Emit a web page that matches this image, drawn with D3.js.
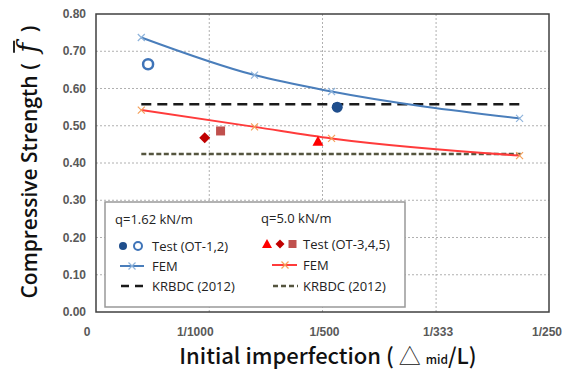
<!DOCTYPE html>
<html>
  <head>
    <script src="https://d3js.org/d3.v7.min.js"></script>
    <style>
      body { margin: 0; background: #fff; }
      svg text { font-family: "Liberation Sans", Arial, sans-serif; }
    </style>
  </head>
  <body>
    <div id="container"></div>
    <script type="text/javascript">
      // x values (initial imperfection, delta/L)
      var xTicks = [0, 1/1000, 1/500, 1/333, 1/250];
      var xTickLabels = ["0", "1/1000", "1/500", "1/333", "1/250"];
      var yTicks = [0, 0.1, 0.2, 0.3, 0.4, 0.5, 0.6, 0.7, 0.8];

      // FEM results
      var femX = [0.0004, 0.0014, 0.00208, 0.00374];
      var femBlue = [0.737, 0.636, 0.592, 0.520];   // q=1.62 kN/m
      var femRed = [0.542, 0.497, 0.466, 0.420];    // q=5.0 kN/m

      // Tests
      var testBlueX = [0.00046, 0.00213];
      var testBlueY = [0.665, 0.550];
      var testBlueShape = ["open", "filled"];
      var testRedX = [0.00196, 0.00096, 0.0011];
      var testRedY = [0.457, 0.468, 0.486];
      var testRedShape = ["triangle", "diamond", "square"];

      // KRBDC (2012) design values
      var krbdcX = [0.0004, 0.00375];
      var krbdcBlue = 0.558;
      var krbdcRed = 0.424;

      var width = 563, height = 377;
      var svg = d3.select("#container").append("svg")
        .attr("width", width)
        .attr("height", height);

      var x = d3.scaleLinear().domain([0, 0.004]).range([96, 549]);
      var y = d3.scaleLinear().domain([0, 0.8]).range([312, 14]);

      // gridlines
      svg.selectAll("line.hgrid")
        .data(yTicks.slice(1, -1))
        .enter().append("line")
          .attr("x1", x(0)).attr("x2", x(0.004))
          .attr("y1", function(d) { return y(d); })
          .attr("y2", function(d) { return y(d); })
          .attr("stroke", "#b0b0b0")
          .attr("stroke-dasharray", "2,2");
      svg.selectAll("line.vgrid")
        .data(xTicks.slice(1, -1))
        .enter().append("line")
          .attr("y1", y(0)).attr("y2", y(0.8))
          .attr("x1", function(d) { return x(d); })
          .attr("x2", function(d) { return x(d); })
          .attr("stroke", "#b0b0b0")
          .attr("stroke-dasharray", "2,2");

      // frame
      svg.append("rect")
        .attr("x", x(0)).attr("y", y(0.8))
        .attr("width", x(0.004) - x(0))
        .attr("height", y(0) - y(0.8))
        .attr("fill", "none")
        .attr("stroke", "#404040")
        .attr("stroke-width", 1.5);

      // y tick labels
      svg.selectAll("text.ytick")
        .data(yTicks)
        .enter().append("text")
          .attr("x", 86)
          .attr("y", function(d) { return y(d); })
          .attr("dy", "0.35em")
          .attr("text-anchor", "end")
          .attr("font-size", 12)
          .attr("font-weight", "bold")
          .attr("fill", "#595959")
          .text(function(d) { return d.toFixed(2); });

      // x tick labels (last one sits against the right edge)
      svg.selectAll("text.xtick")
        .data(xTicks)
        .enter().append("text")
          .attr("x", function(d, i) {
            if (i == 4) return 562;
            return x(d) + (i == 0 ? -9 : (i == 1 ? -14 : 2));
          })
          .attr("y", 332)
          .attr("dy", "0.35em")
          .attr("text-anchor", function(d, i) { return i == 4 ? "end" : "middle"; })
          .attr("font-size", 12)
          .attr("font-weight", "bold")
          .attr("fill", "#595959")
          .text(function(d, i) { return xTickLabels[i]; });

      // KRBDC lines
      svg.append("line")
        .attr("x1", x(krbdcX[0])).attr("x2", x(krbdcX[1]))
        .attr("y1", y(krbdcBlue)).attr("y2", y(krbdcBlue))
        .attr("stroke", "#1a1a1a").attr("stroke-width", 2.5)
        .attr("stroke-dasharray", "10,6");
      svg.append("line")
        .attr("x1", x(krbdcX[0])).attr("x2", x(krbdcX[1]))
        .attr("y1", y(krbdcRed)).attr("y2", y(krbdcRed))
        .attr("stroke", "#55553f").attr("stroke-width", 2.5)
        .attr("stroke-dasharray", "5,2.5");

      // FEM curves
      var line = d3.line()
        .x(function(d) { return x(d[0]); })
        .y(function(d) { return y(d[1]); })
        .curve(d3.curveMonotoneX);

      function femCurve(vals, color, markColor) {
        var pts = femX.map(function(v, i) { return [v, vals[i]]; });
        svg.append("path")
          .attr("d", line(pts))
          .attr("fill", "none")
          .attr("stroke", color)
          .attr("stroke-width", 2);
        var g = svg.selectAll(null).data(pts).enter().append("g")
          .attr("transform", function(d) { return "translate(" + x(d[0]) + "," + y(d[1]) + ")"; });
        g.append("path")
          .attr("d", "M-3.5,-3.5L3.5,3.5M-3.5,3.5L3.5,-3.5")
          .attr("stroke", markColor)
          .attr("stroke-width", 1.2);
      }
      femCurve(femBlue, "#4a7ebb", "#8fb4dc");
      femCurve(femRed, "#ff3b3b", "#f5a05a");

      // test markers
      function marker(sel, shape) {
        if (shape == "open") {
          sel.append("circle").attr("r", 5).attr("fill", "none")
            .attr("stroke", "#3f74b8").attr("stroke-width", 2.5);
        } else if (shape == "filled") {
          sel.append("circle").attr("r", 5.5).attr("fill", "#1f4e8c");
        } else if (shape == "triangle") {
          sel.append("path").attr("d", "M0,-6L5.5,4L-5.5,4Z").attr("fill", "#ff0000");
        } else if (shape == "diamond") {
          sel.append("path").attr("d", "M0,-5.5L5.5,0L0,5.5L-5.5,0Z").attr("fill", "#c00000");
        } else if (shape == "square") {
          sel.append("rect").attr("x", -4.5).attr("y", -4.5)
            .attr("width", 9).attr("height", 9).attr("fill", "#c0504d");
        }
      }
      testBlueX.forEach(function(v, i) {
        var g = svg.append("g").attr("transform", "translate(" + x(v) + "," + y(testBlueY[i]) + ")");
        marker(g, testBlueShape[i]);
      });
      testRedX.forEach(function(v, i) {
        var g = svg.append("g").attr("transform", "translate(" + x(v) + "," + y(testRedY[i]) + ")");
        marker(g, testRedShape[i]);
      });

      // legend
      var lg = svg.append("g");
      lg.append("rect")
        .attr("x", 105).attr("y", 202).attr("width", 300).attr("height", 105)
        .attr("fill", "#fff").attr("stroke", "#999").attr("stroke-width", 1.5);

      function ltext(tx, ty, s, size) {
        lg.append("text").attr("x", tx).attr("y", ty).attr("dy", "0.35em")
          .attr("font-size", size || 13)
          .style("font-family", "'Open Sans', sans-serif")
          .attr("fill", "#222")
          .text(s);
      }
      ltext(115, 219, "q=1.62 kN/m");
      ltext(261, 218, "q=5.0 kN/m");

      // small legend markers
      lg.append("circle").attr("cx", 123).attr("cy", 246).attr("r", 4).attr("fill", "#1f4e8c");
      lg.append("circle").attr("cx", 138).attr("cy", 246).attr("r", 4).attr("fill", "none")
        .attr("stroke", "#3f74b8").attr("stroke-width", 2);
      ltext(152, 246, "Test (OT-1,2)");
      lg.append("line").attr("x1", 120).attr("x2", 144).attr("y1", 266).attr("y2", 266)
        .attr("stroke", "#4a7ebb").attr("stroke-width", 2);
      lg.append("path").attr("d", "M128.5,262.5L135.5,269.5M128.5,269.5L135.5,262.5")
        .attr("stroke", "#8fb4dc").attr("stroke-width", 1.2);
      ltext(152, 266, "FEM");
      lg.append("line").attr("x1", 121).attr("x2", 144).attr("y1", 286).attr("y2", 286)
        .attr("stroke", "#1a1a1a").attr("stroke-width", 2.5).attr("stroke-dasharray", "8,6");
      ltext(152, 286, "KRBDC (2012)");

      lg.append("path").attr("d", "M267,239L272,248L262,248Z").attr("fill", "#ff0000");
      lg.append("path").attr("d", "M280,239.5L284.5,244L280,248.5L275.5,244Z").attr("fill", "#c00000");
      lg.append("rect").attr("x", 288.5).attr("y", 240).attr("width", 8).attr("height", 8).attr("fill", "#c0504d");
      ltext(303, 244, "Test (OT-3,4,5)");
      lg.append("line").attr("x1", 272).attr("x2", 297).attr("y1", 265).attr("y2", 265)
        .attr("stroke", "#ff3b3b").attr("stroke-width", 2);
      lg.append("path").attr("d", "M281.5,261.5L288.5,268.5M281.5,268.5L288.5,261.5")
        .attr("stroke", "#f5a05a").attr("stroke-width", 1.2);
      ltext(303, 265, "FEM");
      lg.append("line").attr("x1", 273).attr("x2", 298).attr("y1", 286).attr("y2", 286)
        .attr("stroke", "#55553f").attr("stroke-width", 2.5).attr("stroke-dasharray", "5,3");
      ltext(303, 286, "KRBDC (2012)");

      // axis titles
      var xt = svg.append("text")
        .attr("x", 328).attr("y", 364)
        .attr("text-anchor", "middle")
        .style("font-family", "'Noto Sans CJK KR', 'Noto Sans', sans-serif")
        .attr("font-size", 22)
        .attr("font-weight", 500)
        .attr("fill", "#111");
      xt.append("tspan").text("Initial imperfection ( ");
      xt.append("tspan").attr("font-weight", 300).text("\u25B3 ");
      xt.append("tspan").attr("font-size", 12).text("mid");
      xt.append("tspan").text("/L)");

      var yt = svg.append("g").attr("transform", "translate(37,162) rotate(-90)");
      var ytext = yt.append("text")
        .attr("text-anchor", "middle")
        .style("font-family", "'Open Sans', sans-serif")
        .attr("font-size", 21)
        .attr("font-weight", 600)
        .attr("fill", "#111");
      var preStr = "Compressive Strength (\u2002";
      ytext.append("tspan").text(preStr);
      var ft = ytext.append("tspan").attr("font-style", "italic")
        .attr("font-size", 27)
        .style("font-family", "'DejaVu Serif', serif").attr("font-weight", "normal").text("f");
      ytext.append("tspan").text("\u2002)");
      // overline above f
      var total = ytext.node().getComputedTextLength();
      var startX = -total / 2;
      var pre = ytext.node().getSubStringLength(0, preStr.length);
      var fw = ytext.node().getSubStringLength(preStr.length, 1);
      yt.append("line")
        .attr("x1", startX + pre).attr("x2", startX + pre + fw + 2)
        .attr("y1", -23).attr("y2", -23)
        .attr("stroke", "#111").attr("stroke-width", 1.8);
    </script>
  </body>
</html>
